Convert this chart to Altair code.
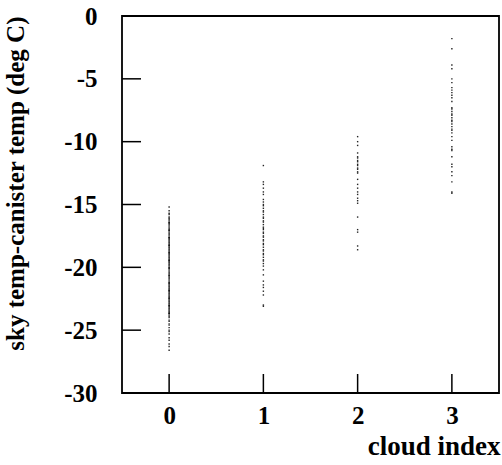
import altair as alt
import pandas as pd

# cloud index categories and readings of (sky temp - canister temp), deg C
cat0 = [-15.2, -15.5, -15.7, -15.8, -16.0, -16.1, -16.2, -16.3, -16.4, -16.5,
        -16.6, -16.7, -16.8, -16.9, -17.0, -17.1, -17.2, -17.3, -17.4, -17.5,
        -17.6, -17.7, -17.8, -17.9, -18.0, -18.1, -18.2, -18.3, -18.4, -18.5,
        -18.6, -18.7, -18.8, -18.9, -19.0, -19.1, -19.2, -19.3, -19.4, -19.5,
        -19.6, -19.7, -19.8, -19.9, -20.0, -20.1, -20.2, -20.3, -20.4, -20.5,
        -20.6, -20.7, -20.8, -20.9, -21.0, -21.1, -21.2, -21.3, -21.4, -21.5,
        -21.6, -21.7, -21.8, -21.9, -22.0, -22.1, -22.2, -22.3, -22.4, -22.5,
        -22.6, -22.7, -22.8, -22.9, -23.0, -23.1, -23.2, -23.3, -23.4, -23.5,
        -23.6, -23.7, -23.8, -23.9, -24.0, -24.2, -24.3, -24.5, -24.6, -24.8,
        -25.0, -25.1, -25.3, -25.6, -25.8, -26.1, -26.3, -26.6,
        -16.45, -17.05, -17.65, -18.25, -18.85, -19.45, -20.05, -20.65,
        -21.25, -21.85, -22.45, -23.05, -23.65]
cat1 = [-11.9, -13.2, -13.4, -13.7, -14.0, -14.2, -14.6, -14.8, -15.0, -15.1,
        -15.3, -15.5, -15.6, -15.8, -16.0, -16.1, -16.3, -16.4, -16.6, -16.8,
        -16.9, -17.0, -17.2, -17.3, -17.5, -17.6, -17.8, -17.9, -18.1, -18.2,
        -18.4, -18.6, -18.7, -18.9, -19.0, -19.2, -19.4, -19.5, -19.7, -19.9,
        -20.2, -20.6, -21.1, -21.4, -21.6, -21.9, -22.2, -23.0, -23.1]
cat2 = [-9.6, -10.0, -10.3, -10.9, -11.2, -11.3, -11.5, -11.6, -11.8, -11.9,
        -12.1, -12.2, -12.4, -12.5, -13.0, -13.4, -13.7, -14.0, -14.2, -14.5,
        -14.7, -14.9, -16.0, -17.0, -17.2, -18.3, -18.6]
cat3 = [-1.8, -2.6, -3.9, -4.2, -5.0, -5.3, -5.7, -5.9, -6.1, -6.3, -6.5,
        -6.8, -7.3, -7.4, -7.6, -7.8, -7.9, -8.1, -8.3, -8.4, -8.6, -8.8,
        -9.0, -9.1, -9.3, -9.6, -9.9, -10.4, -10.6, -10.7, -11.2, -11.8,
        -12.0, -12.4, -12.7, -13.2, -14.0, -14.1]

x_ticks = [0, 1, 2, 3]
y_ticks = [0, -5, -10, -15, -20, -25, -30]
y_inner_ticks = [-5, -10, -15, -20, -25]

rows = []
for idx, vals in enumerate([cat0, cat1, cat2, cat3]):
    for v in vals:
        rows.append({"cloud": idx, "temp": v})
df = pd.DataFrame(rows)

FONT = "Liberation Serif"
xs = alt.Scale(domain=[-0.5, 3.5], nice=False, zero=False)
ys = alt.Scale(domain=[-30, 0], nice=False, zero=False)

x_axis = alt.Axis(values=x_ticks, labelExpr="toString(datum.value)", title="cloud index",
                  grid=False, domain=False, ticks=False, tickSize=0, labelFlush=False,
                  labelOverlap=False, labelFont=FONT, labelFontSize=25,
                  labelFontWeight="bold", labelColor="black", labelPadding=10,
                  titleFont=FONT, titleFontSize=27, titleFontWeight="bold",
                  titleColor="black", titleAlign="right", titleBaseline="alphabetic",
                  titleX=378, titleY=61)
y_axis = alt.Axis(values=y_ticks, labelExpr="toString(datum.value)",
                  title="sky temp-canister temp (deg C)",
                  grid=False, domain=False, ticks=False, tickSize=0, labelFlush=False,
                  labelOverlap=False, labelFont=FONT, labelFontSize=25,
                  labelFontWeight="bold", labelColor="black", labelPadding=25,
                  titleFont=FONT, titleFontSize=25, titleFontWeight="bold",
                  titleColor="black", titleAngle=-90, titleAlign="right",
                  titleBaseline="alphabetic", titleX=-99, titleY=0)

pts = alt.Chart(df).mark_square(size=2, color="black", opacity=0.85, strokeWidth=0).encode(
    x=alt.X("cloud:Q", scale=xs, axis=x_axis),
    y=alt.Y("temp:Q", scale=ys, axis=y_axis),
)

xt = alt.Chart(pd.DataFrame({"cloud": x_ticks})).mark_rule(color="black", strokeWidth=1.5).encode(
    x=alt.X("cloud:Q", scale=xs),
    y=alt.value(377), y2=alt.value(358),
)
yt = alt.Chart(pd.DataFrame({"temp": y_inner_ticks})).mark_rule(color="black", strokeWidth=1.5).encode(
    y=alt.Y("temp:Q", scale=ys),
    x=alt.value(0), x2=alt.value(19),
)

chart = alt.layer(pts, xt, yt).properties(
    width=377, height=377,
    autosize=alt.AutoSizeParams(type="none"),
    padding={"left": 122, "top": 16, "right": 3, "bottom": 72},
    background="white",
).configure_view(stroke="black", strokeWidth=1.8)

chart.save("out.html", embed_options={"renderer": "svg", "actions": False})
